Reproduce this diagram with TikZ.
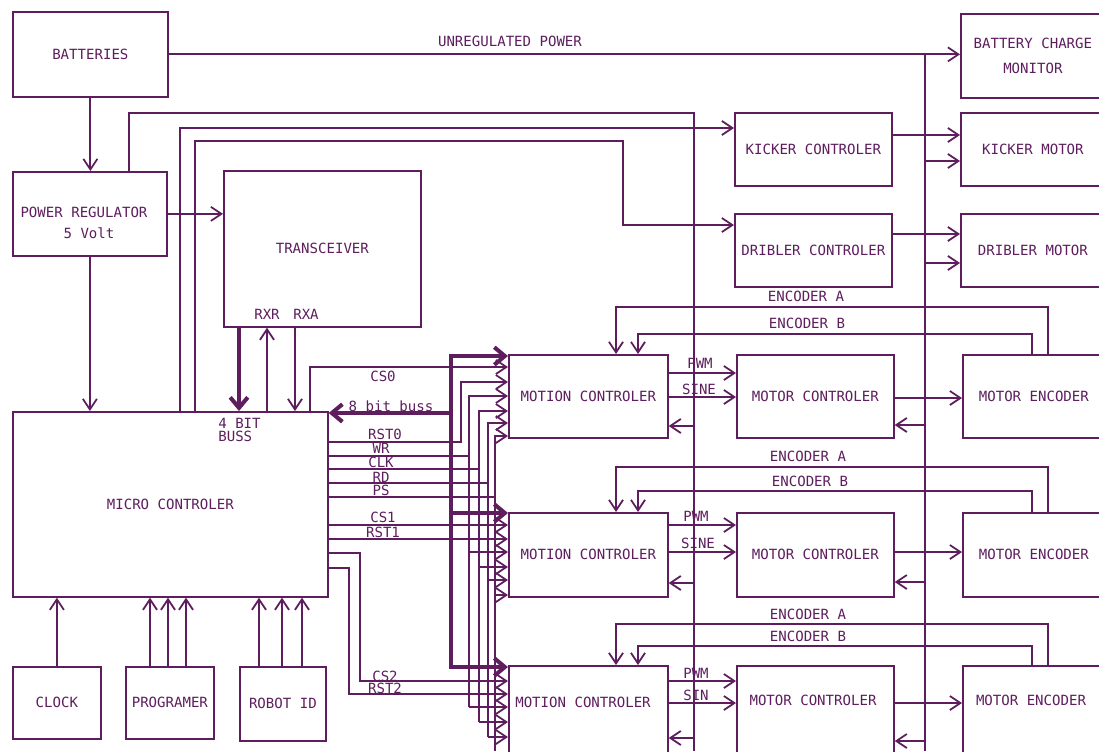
\documentclass[tikz,border=0pt]{standalone}
\usepackage{fontspec}
\newfontfamily\diafont{DejaVu Sans Mono}
\usetikzlibrary{arrows.meta}
\definecolor{pcol}{RGB}{94,30,94}
\begin{document}
\begin{tikzpicture}[x=0.02cm,y=-0.02cm,
  every node/.style={font=\diafont\fontsize{8}{10}\selectfont, text=pcol, inner sep=0pt},
  ln/.style={draw=pcol, line width=1pt},
  arr/.style={ln, -{Straight Barb[length=6pt,width=8pt]}},
  bus/.style={draw=pcol, line width=2.3pt},
  busarr/.style={bus, -{Straight Barb[length=6pt,width=10pt]}},
  box/.style={draw=pcol, line width=1pt, rectangle, anchor=north west, inner sep=0pt},
]
\fill[white] (0,0) rectangle (1099,751);
\useasboundingbox (0,0) rectangle (1099,751);
\coordinate (bot) at (0,751);

% ---------- boxes ----------
\node[box, minimum width=3.10cm, minimum height=1.70cm] (bat) at (12,11) {BATTERIES};
\node[box, minimum width=3.08cm, minimum height=1.68cm] (pr) at (12,171) {};
\node (prt1) at (84,212) {POWER REGULATOR};
\node (prt2) at (89,233) {5 Volt};
\node[box, minimum width=3.94cm, minimum height=3.12cm] (tr) at (223,170) {TRANSCEIVER};
\node[box, minimum width=6.30cm, minimum height=3.70cm] (mc) at (12,411) {MICRO CONTROLER};
\node[box, minimum width=1.76cm, minimum height=1.44cm] (clk) at (12,666) {CLOCK};
\node[box, minimum width=1.76cm, minimum height=1.44cm] (prog) at (125,666) {PROGRAMER};
\node[box, minimum width=1.72cm, minimum height=1.48cm] (rid) at (239,666) {ROBOT ID};
\node[box, minimum width=3.14cm, minimum height=1.46cm] (kc) at (734,112) {KICKER CONTROLER};
\node[box, minimum width=3.14cm, minimum height=1.46cm] (dc) at (734,213) {DRIBLER CONTROLER};
\node[box, minimum width=2.88cm, minimum height=1.68cm, align=center] (bcm) at (960,13) {BATTERY CHARGE\\[4.7pt]MONITOR};
\node[box, minimum width=2.88cm, minimum height=1.46cm] (km) at (960,112) {KICKER MOTOR};
\node[box, minimum width=2.88cm, minimum height=1.46cm] (dm) at (960,213) {DRIBLER MOTOR};

\node[box, minimum width=3.18cm, minimum height=1.66cm] (mot1) at (508,354) {MOTION CONTROLER};
\node[box, minimum width=3.14cm, minimum height=1.66cm] (moc1) at (736,354) {MOTOR CONTROLER};
\node[box, minimum width=2.84cm, minimum height=1.66cm] (me1) at (962,354) {MOTOR ENCODER};
\node[box, minimum width=3.18cm, minimum height=1.68cm] (mot2) at (508,512) {MOTION CONTROLER};
\node[box, minimum width=3.14cm, minimum height=1.68cm] (moc2) at (736,512) {MOTOR CONTROLER};
\node[box, minimum width=2.84cm, minimum height=1.68cm] (me2) at (962,512) {MOTOR ENCODER};
\node[box, minimum width=3.18cm, minimum height=2.00cm] (mot3) at (508,665) {};
\node[box, minimum width=3.14cm, minimum height=2.00cm] (moc3) at (736,665) {};
\node[box, minimum width=2.84cm, minimum height=2.00cm] (me3) at (962,665) {};
\node (mot3t) at (583,702) {MOTION CONTROLER};
\node (moc3t) at (813,700) {MOTOR CONTROLER};
\node (me3t) at (1031,700) {MOTOR ENCODER};

% ---------- power ----------
\draw[arr] (bat.east) -- (bat.east -| bcm.west);
\node (lup) at (510,41) {UNREGULATED POWER};
\draw[ln] (bat.east -| 925,0) -- (bot -| 925,0);
\draw[arr] (bat.south) -- (bat.south |- pr.north);
\draw[arr] (pr.south) -- (pr.south |- mc.north);
\draw[arr] (pr.east) -- (pr.east -| tr.west);
\draw[ln] (pr.north -| 129,0) |- (694,113) -- (bot -| 694,0);

% kicker / dribler
\draw[arr] (mc.north -| 180,0) |- (kc.west |- 0,128);
\draw[arr] (mc.north -| 195,0) |- (623,141) |- (dc.west |- 0,225);
\draw[arr] (kc.east |- 0,135) -- (km.west |- 0,135);
\draw[arr] (925,161) -- (km.west |- 0,161);
\draw[arr] (dc.east |- 0,234) -- (dm.west |- 0,234);
\draw[arr] (925,263) -- (dm.west |- 0,263);

% transceiver
\draw[busarr] (tr.south -| 239,0) -- (mc.north -| 239,0);
\draw[arr] (mc.north -| 267,0) -- (tr.south -| 267,0);
\draw[arr] (tr.south -| 295,0) -- (mc.north -| 295,0);
\node (rxr) at (267,314) {RXR};
\node (rxa) at (306,314) {RXA};
\node[align=left, anchor=west, font=\diafont\fontsize{8}{7.4}\selectfont] (bb4) at (218,429.5) {4 BIT\\BUSS};

% bottom inputs
\draw[arr] (clk.north) -- (clk.north |- mc.south);
\foreach \x in {150,168,186} \draw[arr] (prog.north -| \x,0) -- (mc.south -| \x,0);
\foreach \x in {259,282,302} \draw[arr] (rid.north -| \x,0) -- (mc.south -| \x,0);

% ---------- buses to motion controllers ----------
\draw[busarr] (451,420) -- (451,356) -- (mot1.west |- 0,356);
\draw[busarr] (451,400) -- (451,667) -- (mot3.west |- 0,667);
\draw[busarr] (451,513) -- (mot2.west |- 0,513);
\draw[busarr] (451,413) -- (mc.east |- 0,413);
\node (l8) at (391,406) {8 bit buss};

% CS0 / RST0
\draw[arr] (mc.north -| 310,0) |- (mot1.west |- 0,367);
\node (lcs0) at (383,376) {CS0};
\draw[arr] (mc.east |- 0,442) -| (461,382) -- (mot1.west |- 0,382);
\node (lrst0) at (385,434) {RST0};

% shared WR CLK RD PS
\draw[ln] (mc.east |- 0,456) -- (469,456);
\draw[arr] (469,707) |- (mot1.west |- 0,396);
\draw[arr] (469,552) -- (mot2.west |- 0,552);
\draw[arr] (469,707) -- (mot3.west |- 0,707);
\node (lwr) at (381,448) {WR};

\draw[ln] (mc.east |- 0,469) -- (479,469);
\draw[arr] (479,722) |- (mot1.west |- 0,411);
\draw[arr] (479,567) -- (mot2.west |- 0,567);
\draw[arr] (479,722) -- (mot3.west |- 0,722);
\node (lclk) at (381,462) {CLK};

\draw[ln] (mc.east |- 0,483) -- (488,483);
\draw[arr] (488,737) |- (mot1.west |- 0,423);
\draw[arr] (488,580) -- (mot2.west |- 0,580);
\draw[arr] (488,737) -- (mot3.west |- 0,737);
\node (lrd) at (381,477) {RD};

\draw[ln] (mc.east |- 0,497) -- (495,497);
\draw[arr] (bot -| 495,0) |- (mot1.west |- 0,436);
\draw[arr] (495,595) -- (mot2.west |- 0,595);
\node (lps) at (381,490) {PS};

% CS1 / RST1
\draw[arr] (mc.east |- 0,525) -- (mot2.west |- 0,525);
\node (lcs1) at (383,517) {CS1};
\draw[arr] (mc.east |- 0,539) -- (mot2.west |- 0,539);
\node (lrst1) at (383,532) {RST1};

% CS2 / RST2
\draw[arr] (mc.east |- 0,553) -| (360,681) -- (mot3.west |- 0,681);
\node (lcs2) at (385,676) {CS2};
\draw[arr] (mc.east |- 0,568) -| (349,694) -- (mot3.west |- 0,694);
\node (lrst2) at (385,688) {RST2};

% ---------- rows ----------
% row 1
\draw[arr] (mot1.east |- 0,373) -- (moc1.west |- 0,373);
\node (pwm1) at (700,363) {PWM};
\draw[arr] (mot1.east |- 0,397) -- (moc1.west |- 0,397);
\node (sine1) at (699,389) {SINE};
\draw[arr] (694,426) -- (mot1.east |- 0,426);
\draw[arr] (moc1.east |- 0,398) -- (me1.west |- 0,398);
\draw[arr] (925,425) -- (moc1.east |- 0,425);
\draw[arr] (me1.north -| 1048,0) |- (616,307) -- (mot1.north -| 616,0);
\draw[arr] (me1.north -| 1032,0) |- (638,334) -- (mot1.north -| 638,0);
\node (ea1) at (806,296) {ENCODER A};
\node (eb1) at (807,323) {ENCODER B};

% row 2
\draw[arr] (mot2.east |- 0,525) -- (moc2.west |- 0,525);
\node (pwm2) at (696,516) {PWM};
\draw[arr] (mot2.east |- 0,552) -- (moc2.west |- 0,552);
\node (sine2) at (698,543) {SINE};
\draw[arr] (694,583) -- (mot2.east |- 0,583);
\draw[arr] (moc2.east |- 0,552) -- (me2.west |- 0,552);
\draw[arr] (925,582) -- (moc2.east |- 0,582);
\draw[arr] (me2.north -| 1048,0) |- (616,467) -- (mot2.north -| 616,0);
\draw[arr] (me2.north -| 1032,0) |- (638,491) -- (mot2.north -| 638,0);
\node (ea2) at (808,456) {ENCODER A};
\node (eb2) at (810,481) {ENCODER B};

% row 3
\draw[arr] (mot3.east |- 0,681) -- (moc3.west |- 0,681);
\node (pwm3) at (696,673) {PWM};
\draw[arr] (mot3.east |- 0,703) -- (moc3.west |- 0,703);
\node (sin3) at (696,695) {SIN};
\draw[arr] (694,738) -- (mot3.east |- 0,738);
\draw[arr] (moc3.east |- 0,703) -- (me3.west |- 0,703);
\draw[arr] (925,741) -- (moc3.east |- 0,741);
\draw[arr] (me3.north -| 1048,0) |- (616,624) -- (mot3.north -| 616,0);
\draw[arr] (me3.north -| 1032,0) |- (638,646) -- (mot3.north -| 638,0);
\node (ea3) at (808,614) {ENCODER A};
\node (eb3) at (808,636) {ENCODER B};
\end{tikzpicture}
\end{document}
